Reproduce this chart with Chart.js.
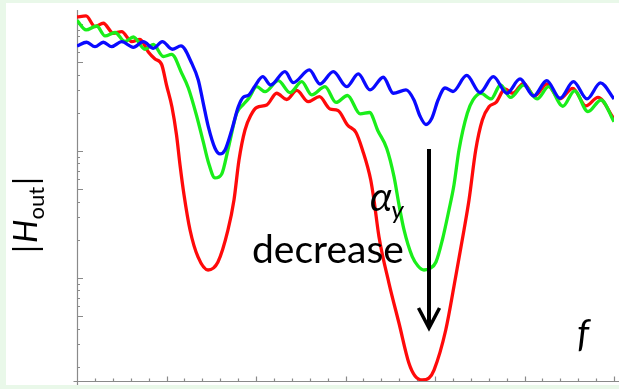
<!DOCTYPE html>
<html>
<head>
<meta charset="utf-8">
<script src="https://cdn.jsdelivr.net/npm/chart.js"></script>
<style>
  html, body { margin: 0; padding: 0; background: #e9f8e9; }
  body { width: 619px; height: 389px; position: relative; overflow: hidden; }
  #panel { position: absolute; left: 6px; top: 3px; width: 613px; height: 382px; background: #fff; }
  canvas { display: block; }
</style>
</head>
<body>
<div id="panel"><canvas id="chartCanvas" width="613" height="382"></canvas></div>
<script>
  // === Data: frequency f (axis units) and |H_out| in dB (20·log10|H|) ===
  const blueF = [0.000,0.108,0.201,0.294,0.388,0.499,0.629,0.741,0.853,0.953,1.065,1.162,1.282,1.355,1.411,1.467,1.542,1.598,1.654,1.729,1.803,1.858,1.914,1.989,2.075,2.164,2.324,2.417,2.596,2.715,2.864,3.013,3.143,3.274,3.422,3.534,3.676,3.765,3.832,3.899,3.966,4.034,4.112,4.201,4.354,4.503,4.651,4.804,4.950,5.101,5.248,5.397,5.547,5.698,5.849,6.000];
  const blueDb = [36.54,37.12,36.43,37.12,36.43,37.21,36.33,37.21,36.17,37.21,36.02,36.54,33.81,31.18,27.51,23.83,20.43,19.53,20.16,23.31,26.98,28.46,28.74,30.24,31.70,30.39,32.49,30.76,32.76,30.55,32.49,30.13,32.13,29.61,31.61,29.09,29.61,28.03,25.51,24.17,25.20,28.03,29.92,29.37,31.89,29.21,31.70,29.09,31.34,28.66,31.07,28.30,30.91,28.19,30.71,28.19];

  const greenF = [0.000,0.101,0.220,0.313,0.425,0.536,0.629,0.760,0.853,0.964,1.058,1.170,1.244,1.337,1.411,1.467,1.542,1.617,1.691,1.784,1.858,1.922,2.008,2.101,2.249,2.380,2.511,2.622,2.771,2.894,3.022,3.165,3.268,3.363,3.460,3.542,3.598,3.654,3.746,3.810,3.877,3.944,4.011,4.082,4.156,4.212,4.268,4.361,4.425,4.514,4.626,4.732,4.844,4.991,5.140,5.270,5.428,5.559,5.709,5.855,6.000];
  const greenDb = [40.55,39.06,39.68,38.11,38.66,37.24,37.95,36.02,36.77,34.88,35.20,32.24,29.92,25.51,21.42,18.27,15.75,16.38,20.47,25.94,27.32,28.35,30.13,29.34,31.07,29.18,30.91,28.82,30.13,27.64,28.74,25.83,26.06,23.15,20.43,15.95,11.50,7.56,3.35,1.89,1.26,1.50,2.52,5.98,10.71,14.65,20.16,25.94,28.03,29.06,28.19,30.39,28.43,30.39,28.19,30.13,27.04,29.48,26.19,28.03,24.61];

  const redF = [0.000,0.101,0.201,0.294,0.406,0.499,0.611,0.704,0.797,0.872,0.946,1.000,1.061,1.112,1.151,1.196,1.263,1.352,1.464,1.575,1.687,1.754,1.810,1.877,1.944,2.008,2.120,2.231,2.343,2.455,2.584,2.709,2.827,2.916,3.022,3.117,3.190,3.282,3.318,3.374,3.486,3.598,3.709,3.777,3.858,3.933,3.989,4.120,4.231,4.324,4.380,4.455,4.529,4.603,4.682,4.782,4.869,4.989,5.112,5.251,5.391,5.540,5.687,5.821,6.000];
  const redDb = [41.10,41.26,39.58,40.11,38.54,38.79,37.21,37.59,35.59,34.49,33.62,30.39,26.93,22.52,17.80,13.07,7.56,3.31,1.26,2.52,7.56,12.28,18.58,23.31,25.67,26.85,27.24,29.09,28.11,29.53,27.76,28.55,26.61,26.38,24.09,22.91,20.16,15.43,12.28,6.50,-0.83,-7.13,-13.43,-15.43,-16.06,-15.75,-14.49,-8.19,0.20,7.56,12.28,20.16,24.88,26.98,27.64,29.76,29.09,30.66,28.66,30.55,28.19,29.87,27.09,28.43,25.04];

  // axis ranges and tick marks (log ticks given as |H| values)
  const fMin = 0, fMax = 6;
  const dbMin = -16.22, dbMax = 42.2;
  const xMajorTicks = [0, 1, 2, 3, 4, 5, 6];
  const yTickValues = [0.2,0.3,0.4,0.5,0.6,0.7,0.8,0.9,1,2,3,4,5,6,7,8,9,10,20,30,40,50,60,70,80,90,100];
  const yMajorValues = [0.5, 1, 5, 10, 50, 100];

  // annotation anchors (data units)
  const arrowF = 3.933, arrowFromDb = 20.31, arrowToDb = -7.87;
  const decreaseF = 1.955, decreaseDb = 2.36;
  const alphaF = 3.274, alphaDb = 10.55;

  const toPts = (xs, ys) => xs.map((f, i) => ({ x: f, y: ys[i] }));

  const axesPlugin = {
    id: 'axes',
    beforeDatasetsDraw(chart) {
      const { ctx, chartArea: a, scales: { x, y } } = chart;
      const L = Math.round(a.left) + 0.5;
      const B = Math.round(a.bottom) + 0.5;
      ctx.save();
      ctx.strokeStyle = '#8a8a8a';
      ctx.lineWidth = 1.2;
      ctx.beginPath();
      ctx.moveTo(L, a.top); ctx.lineTo(L, B + 4);
      ctx.moveTo(L - 4, B); ctx.lineTo(chart.width, B);
      // x ticks: majors every unit, minors every 0.2
      for (let m = 0; m < xMajorTicks.length; m++) {
        for (let k = 0; k < 5; k++) {
          const v = xMajorTicks[m] + k * 0.2;
          if (v > fMax + 1e-9 || v === 0) continue;
          const px = Math.round(x.getPixelForValue(v)) + 0.5;
          ctx.moveTo(px, B);
          ctx.lineTo(px, B - (k === 0 ? 5 : 3));
        }
      }
      // y ticks (log)
      for (const v of yTickValues) {
        const py = Math.round(y.getPixelForValue(20 * Math.log10(v))) + 0.5;
        ctx.moveTo(L, py);
        ctx.lineTo(L + (yMajorValues.includes(v) ? 5.5 : 2.5), py);
      }
      ctx.stroke();
      ctx.restore();
    },
    afterDatasetsDraw(chart) {
      const { ctx, chartArea: a, scales: { x, y } } = chart;
      ctx.save();
      ctx.fillStyle = '#000';
      ctx.textBaseline = 'alphabetic';

      // arrow
      const ax = x.getPixelForValue(arrowF);
      const ay0 = y.getPixelForValue(arrowFromDb);
      const ay1 = y.getPixelForValue(arrowToDb);
      ctx.strokeStyle = '#000';
      ctx.lineWidth = 4;
      ctx.beginPath();
      ctx.moveTo(ax, ay0); ctx.lineTo(ax, ay1 - 2);
      ctx.stroke();
      ctx.lineWidth = 3.5;
      ctx.lineJoin = 'miter';
      ctx.beginPath();
      ctx.moveTo(ax - 10.5, ay1 - 20);
      ctx.lineTo(ax, ay1);
      ctx.lineTo(ax + 10.5, ay1 - 20);
      ctx.stroke();

      // "α_y decrease"
      const alx = x.getPixelForValue(alphaF), aly = y.getPixelForValue(alphaDb);
      ctx.font = 'italic 40px Lato';
      ctx.fillText('α', alx, aly);
      const aw = ctx.measureText('α').width;
      ctx.font = 'italic 26px Lato';
      ctx.fillText('y', alx + aw - 1, aly + 8);
      ctx.font = '39px Lato';
      ctx.fillText('decrease', x.getPixelForValue(decreaseF), y.getPixelForValue(decreaseDb));

      // x label f
      ctx.font = 'italic 38px Lato';
      ctx.fillText('f', a.right - 37, a.bottom - 34);

      // y label |H_out|
      ctx.translate(a.left - 40, a.top + 243);
      ctx.rotate(-Math.PI / 2);
      let cx = 0;
      ctx.font = '32px Lato';
      ctx.fillText('|', cx, 0); cx += ctx.measureText('|').width + 2;
      ctx.font = 'italic 33px Lato';
      ctx.fillText('H', cx, 0); cx += ctx.measureText('H').width;
      ctx.font = '22px Lato';
      ctx.fillText('out', cx, 7); cx += ctx.measureText('out').width + 2;
      ctx.font = '32px Lato';
      ctx.fillText('|', cx, 0);
      ctx.restore();
    }
  };

  const ctx = document.getElementById('chartCanvas').getContext('2d');
  const chart = new Chart(ctx, {
    type: 'line',
    data: {
      datasets: [
        { label: 'blue', data: toPts(blueF, blueDb), borderColor: '#0a0aff', borderWidth: 3.3, pointRadius: 0, cubicInterpolationMode: 'monotone' },
        { label: 'green', data: toPts(greenF, greenDb), borderColor: '#1aee1a', borderWidth: 3.3, pointRadius: 0, cubicInterpolationMode: 'monotone' },
        { label: 'red', data: toPts(redF, redDb), borderColor: '#ff0a0a', borderWidth: 3.3, pointRadius: 0, cubicInterpolationMode: 'monotone' }
      ]
    },
    options: {
      responsive: false,
      animation: false,
      layout: { padding: { left: 71, top: 7, right: 5, bottom: 4 } },
      plugins: { legend: { display: false }, tooltip: { enabled: false } },
      scales: {
        x: { type: 'linear', min: fMin, max: fMax, display: false },
        y: { type: 'linear', min: dbMin, max: dbMax, display: false }
      }
    },
    plugins: [axesPlugin]
  });
</script>
</body>
</html>
